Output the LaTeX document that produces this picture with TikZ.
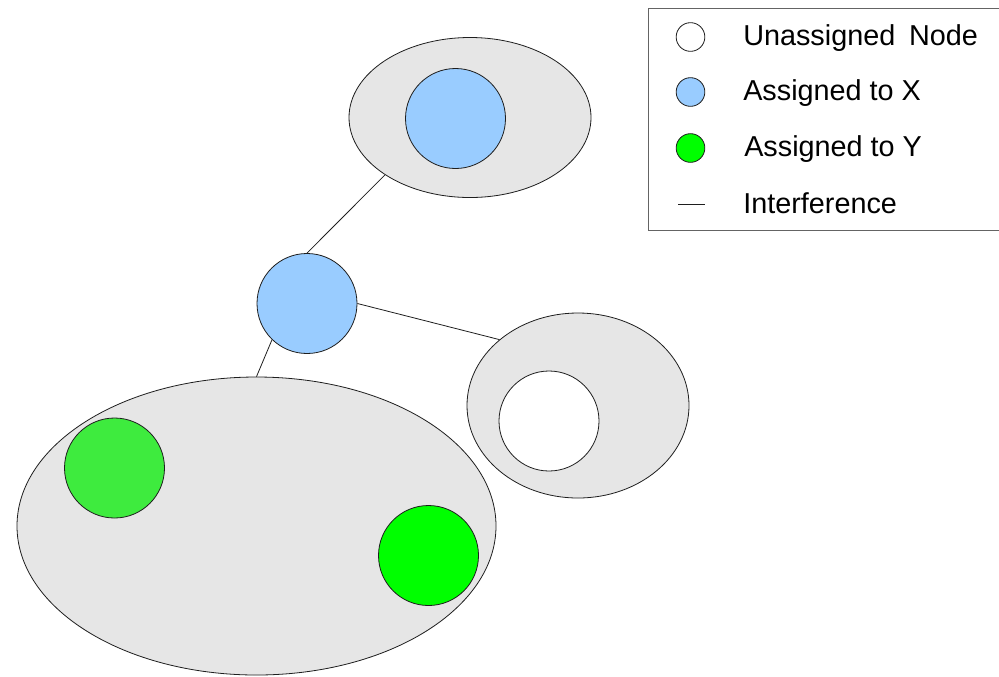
\documentclass[tikz,border=0pt]{standalone}
\usepackage{fontspec}
\setmainfont{Liberation Sans}
\usetikzlibrary{shapes.geometric}
\definecolor{grp}{RGB}{230,230,230}
\definecolor{bluex}{RGB}{153,204,255}
\definecolor{greena}{RGB}{62,235,62}
\definecolor{greenb}{RGB}{0,255,0}
\definecolor{edgec}{RGB}{30,30,30}
\tikzset{
  grpell/.style={ellipse, draw=edgec, fill=grp, line width=0.6pt, inner sep=0pt},
  bignode/.style={circle, draw=edgec, line width=0.6pt, inner sep=0pt, minimum size=75pt},
  legnode/.style={circle, draw=edgec, line width=0.6pt, inner sep=0pt, minimum size=21.5pt},
  link/.style={draw=edgec, line width=0.6pt},
  legtext/.style={anchor=base west, inner sep=0pt, font=\fontsize{21.6}{26}\selectfont}
}
\begin{document}
\begin{tikzpicture}[x=0.75pt, y=-0.75pt]
\useasboundingbox (0,0) rectangle (999,676);
% groups
\node[grpell, minimum width=181.5pt, minimum height=120pt] (te) at (470,117.5) {};
\node[grpell, minimum width=166.5pt, minimum height=138.75pt] (re) at (578,405.5) {};
\node[grpell, minimum width=359.25pt, minimum height=223.5pt] (be) at (256.5,526) {};
% nodes
\node[bignode, fill=bluex] (t) at (455.5,118.5) {};
\node[bignode, fill=white] (u) at (549,421) {};
\node[bignode, fill=greena] (g1) at (114.5,468) {};
\node[bignode, fill=greenb] (g2) at (428.5,555.5) {};
\node[bignode, fill=bluex] (m) at (307,303.5) {};
% links
\draw[link] (m.north) -- (te.214.4);
\draw[link] (m.east) -- (re.140.6);
\draw[link] (m.226) -- (be.north);
% legend
\node[draw={rgb,255:red,100;green,100;blue,100}, line width=0.8pt, minimum width=263.25pt, minimum height=166.5pt, inner sep=0pt, anchor=north west] (leg) at (648,7.5) {};
\node[legnode, fill=white] (l1) at (690.5,37) {};
\node[legnode, fill=bluex] (l2) at (690.5,92) {};
\node[legnode, fill=greenb] (l3) at (690.5,148) {};
\coordinate (la) at (678,204);
\coordinate (lb) at (705,204);
\draw[link, line width=0.5pt] (la) -- (lb);
\node[legtext] (t1) at (743,45) {Unassigned\hspace{0.2em} Node};
\node[legtext] (t2) at (743,100) {Assigned to X};
\node[legtext] (t3) at (744,156) {Assigned to Y};
\node[legtext] (t4) at (743,213) {Interference};
\end{tikzpicture}
\end{document}
